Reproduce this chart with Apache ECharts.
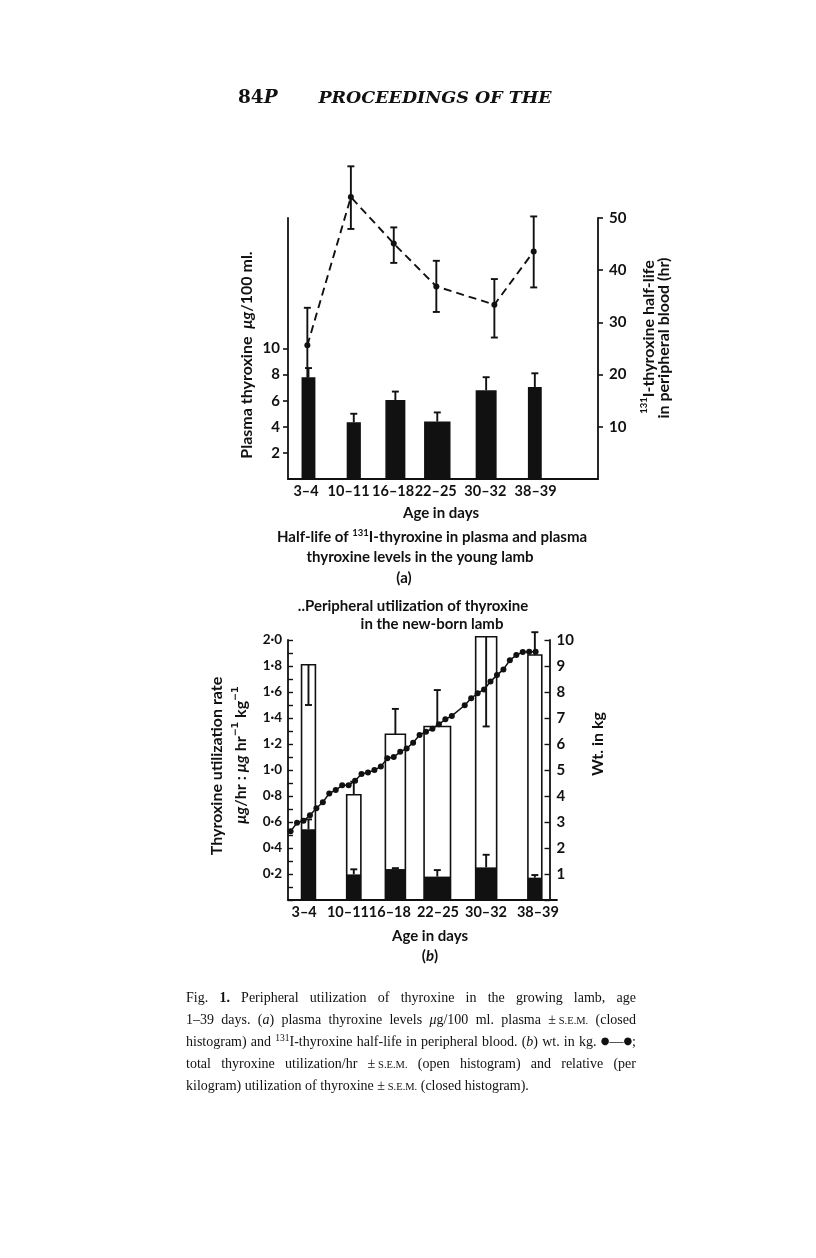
<!DOCTYPE html>
<html><head><meta charset="utf-8">
<script src="https://cdn.jsdelivr.net/npm/echarts@6/dist/echarts.min.js"></script>
<style>html,body{margin:0;padding:0;background:#fff}#c{width:816px;height:1258px}</style>
</head><body><div id="c"></div>
<script>
// ---------------- data ----------------
const ageLabels = ['3–4', '10–11', '16–18', '22–25', '30–32', '38–39'];
const labelDaysA = [3.4, 10.0, 16.9, 23.5, 31.2, 39.0];
const labelDaysB = [3.1, 9.9, 16.4, 23.85, 31.3, 39.35];
const binLo = [2.7, 9.7, 15.7, 21.7, 29.7, 37.8];
const binHi = [4.85, 11.9, 18.8, 25.8, 32.95, 39.95];
// (a) plasma thyroxine (µg/100 ml) and half-life (hr)
const plasmaT4 = [7.8, 4.35, 6.05, 4.4, 6.8, 7.05];
const plasmaT4Err = [8.5, 5.0, 6.7, 5.1, 7.8, 8.1];
const halfLifeDays = [3.6, 10.35, 17.0, 23.6, 32.6, 38.7];
const halfLife = [25.6, 54.0, 45.1, 36.9, 33.4, 43.6];
const halfLifeLo = [18.2, 47.9, 41.4, 32.0, 27.1, 36.7];
const halfLifeHi = [32.8, 59.9, 48.2, 41.8, 38.3, 50.3];
// (b) utilization
const totalUtil = [1.81, 0.81, 1.275, 1.335, 2.025, 1.885];
const totalUtilErr = [1.50, 0.91, 1.47, 1.615, 1.335, 2.06];
const relUtil = [0.545, 0.197, 0.238, 0.18, 0.251, 0.172];
const relUtilErr = [0.62, 0.236, 0.245, 0.23, 0.348, 0.192];
const weightDays = [1,2,3,4,5,6,7,8,9,10,11,12,13,14,15,16,17,18,19,20,21,22,23,24,25,26,28,29,30,31,32,33,34,35,36,37,38,39];
const weightKg = [2.64,2.97,3.05,3.26,3.53,3.76,4.10,4.23,4.41,4.41,4.59,4.85,4.90,5.00,5.13,5.45,5.50,5.70,5.83,6.05,6.35,6.47,6.59,6.76,6.95,7.08,7.49,7.76,7.95,8.10,8.40,8.65,8.87,9.22,9.42,9.54,9.55,9.55];
const ticksA_left = [2, 4, 6, 8, 10];
const ticksA_right = [10, 20, 30, 40, 50];

// ---------------- helpers ----------------
const K = '#111';
const SANS = 'Lato';
const SERIF = 'Liberation Serif';
function labelFor(v, arr) {
  let bi = 0, bd = 1e9;
  arr.forEach((a, i) => { const d = Math.abs(a - v); if (d < bd) { bd = d; bi = i; } });
  return ageLabels[bi];
}
function fmtDot(v) { return v.toFixed(1).replace('.', '·'); }
function barRender(fill, stroke, lw) {
  return (p, api) => {
    const lo = api.value(0), hi = api.value(1), v = api.value(2);
    const a = api.coord([lo, v]), b = api.coord([hi, 0]);
    return { type: 'rect', shape: { x: a[0], y: a[1], width: b[0] - a[0], height: b[1] - a[1] },
      style: { fill: fill, stroke: stroke, lineWidth: lw } };
  };
}
function errRender(capBoth) {
  return (p, api) => {
    const x = api.value(0), y0 = api.value(1), y1 = api.value(2);
    const a = api.coord([x, y0]), b = api.coord([x, y1]);
    const c = 3.5, st = { stroke: K, lineWidth: 1.9 };
    const ch = [
      { type: 'line', shape: { x1: a[0], y1: a[1], x2: b[0], y2: b[1] }, style: st },
      { type: 'line', shape: { x1: b[0] - c, y1: b[1], x2: b[0] + c, y2: b[1] }, style: st }
    ];
    if (capBoth) ch.push({ type: 'line', shape: { x1: a[0] - c, y1: a[1], x2: a[0] + c, y2: a[1] }, style: st });
    return { type: 'group', children: ch };
  };
}
const axisLine = { show: true, onZero: false, lineStyle: { color: K, width: 1.8 } };
const tickLab = { color: K, fontFamily: SANS, fontWeight: 'bold', fontSize: 14.5 };

// chart text rich styles
function rs(size, extra) {
  return Object.assign({ fontFamily: SANS, fontWeight: 'bold', fontSize: size, lineHeight: size + 2, verticalAlign: 'bottom', fill: K }, extra || {});
}
const chartRich = {
  t: rs(15), i: rs(15, { fontStyle: 'italic' }),
  n: rs(16), ni: rs(16, { fontStyle: 'italic' }),
  sup: rs(9.5, { lineHeight: 10, verticalAlign: 'top' }),
  sup2: rs(9.5, { fontFamily: 'DejaVu Sans', lineHeight: 10, verticalAlign: 'top' })
};
function T(x, y, text, rot) {
  return { type: 'text', x: x, y: y, rotation: rot || 0,
    style: { text: text, rich: chartRich, align: 'center', verticalAlign: 'middle',
      textAlign: 'center', textVerticalAlign: 'middle', fill: K } };
}

// ---------------- caption (justified) ----------------
const capLines = [
  'Fig. {b|1.} Peripheral utilization of thyroxine in the growing lamb, age',
  '1–39 days. ({i|a}) plasma thyroxine levels {i|μ}g/100 ml. plasma ±\u2009{sc|S.E.M.} (closed',
  'histogram) and {sup|131}I-thyroxine half-life in peripheral blood. ({i|b}) wt. in kg. {dot|●}—{dot|●};',
  'total thyroxine utilization/hr ±\u2009{sc|S.E.M.} (open histogram) and relative (per',
  'kilogram) utilization of thyroxine ±\u2009{sc|S.E.M.} (closed histogram).'
];
const capFS = 14;
const capStyle = {
  n: { fontSize: capFS, lineHeight: 16, verticalAlign: 'bottom' },
  i: { fontSize: capFS, fontStyle: 'italic', lineHeight: 16, verticalAlign: 'bottom' },
  b: { fontSize: capFS, fontWeight: 'bold', lineHeight: 16, verticalAlign: 'bottom' },
  sc: { fontSize: 10.5, lineHeight: 12.5, verticalAlign: 'bottom' },
  sup: { fontSize: 9.5, lineHeight: 10, verticalAlign: 'top' },
  dot: { fontSize: 10, lineHeight: 16, verticalAlign: 'middle', fontFamily: 'DejaVu Sans' }
};
const capRich = {};
Object.keys(capStyle).forEach(k => { capRich[k] = Object.assign({ fontFamily: SERIF + ', DejaVu Serif', fill: K }, capStyle[k]); });
const cv = document.createElement('canvas').getContext('2d');
function cssFont(k) {
  const s = capRich[k];
  return (s.fontStyle || 'normal') + ' ' + (s.fontWeight || 'normal') + ' ' + s.fontSize + 'px "' + (s.fontFamily.split(',')[0]) + '", "DejaVu Serif"';
}
function segs(word) {
  const out = []; const re = /\{(\w+)\|([^}]*)\}/g; let last = 0, m;
  while ((m = re.exec(word))) { if (m.index > last) out.push(['n', word.slice(last, m.index)]); out.push([m[1], m[2]]); last = re.lastIndex; }
  if (last < word.length) out.push(['n', word.slice(last)]);
  return out;
}
function wordWidth(word) { return segs(word).reduce((s, sg) => { cv.font = cssFont(sg[0]); return s + cv.measureText(sg[1]).width; }, 0); }
function richStr(word) { return segs(word).map(sg => '{' + sg[0] + '|' + sg[1] + '}').join(''); }
const capX0 = 186, capX1 = 636, capY = [997, 1019, 1041, 1063, 1085];
const capGraphics = [];
capLines.forEach((line, li) => {
  const words = line.split(' ');
  const ws = words.map(wordWidth);
  const total = ws.reduce((a, b) => a + b, 0);
  cv.font = cssFont('n');
  const nat = cv.measureText(' ').width;
  const last = li === capLines.length - 1;
  const gap = last ? nat : (capX1 - capX0 - total) / (words.length - 1);
  let x = capX0;
  words.forEach((w, i) => {
    capGraphics.push({ type: 'text', x: x, y: capY[li],
      style: { text: richStr(w), rich: capRich, align: 'left', verticalAlign: 'middle', textAlign: 'left', textVerticalAlign: 'middle', fill: K } });
    x += ws[i] + gap;
  });
});

// ---------------- option ----------------
const barsA = binLo.map((lo, i) => [lo, binHi[i], plasmaT4[i]]);
const errBarsA = binLo.map((lo, i) => [(lo + binHi[i]) / 2, plasmaT4[i], plasmaT4Err[i]]);
const hlErr = halfLifeDays.map((d, i) => [d, halfLifeLo[i], halfLifeHi[i]]);
const openB = binLo.map((lo, i) => [lo, binHi[i], totalUtil[i]]);
const closedB = binLo.map((lo, i) => [lo, binHi[i], relUtil[i]]);
const openErr = binLo.map((lo, i) => [(lo + binHi[i]) / 2, totalUtil[i], totalUtilErr[i]]);
const closedErr = binLo.map((lo, i) => [(lo + binHi[i]) / 2, relUtil[i], relUtilErr[i]]);

const option = {
  animation: false,
  backgroundColor: '#fff',
  grid: [
    { left: 288, top: 218, width: 310, height: 261 },
    { left: 288, top: 640, width: 269, height: 260 }
  ],
  xAxis: [
    { gridIndex: 0, type: 'value', min: 0.6, max: 48.67, axisLine: axisLine, axisTick: { show: false }, splitLine: { show: false },
      axisLabel: Object.assign({}, tickLab, { margin: 5, customValues: labelDaysA, formatter: v => labelFor(v, labelDaysA) }) },
    { gridIndex: 1, type: 'value', min: 0.6, max: 42.31, axisLine: axisLine, axisTick: { show: false }, splitLine: { show: false },
      axisLabel: Object.assign({}, tickLab, { margin: 5, customValues: labelDaysB, formatter: v => labelFor(v, labelDaysB) }) }
  ],
  yAxis: [
    { gridIndex: 0, type: 'value', position: 'left', min: 0, max: 20, axisLine: axisLine, splitLine: { show: false },
      axisTick: { show: true, length: 5, customValues: ticksA_left, lineStyle: { color: K, width: 1.6 } },
      axisLabel: Object.assign({}, tickLab, { fontSize: 15, margin: 8, customValues: ticksA_left }) },
    { gridIndex: 0, type: 'value', position: 'right', min: 0, max: 50, axisLine: axisLine, splitLine: { show: false },
      axisTick: { show: true, length: 5, customValues: ticksA_right, lineStyle: { color: K, width: 1.6 } },
      axisLabel: Object.assign({}, tickLab, { fontSize: 15, margin: 11, customValues: ticksA_right }) },
    { gridIndex: 1, type: 'value', position: 'left', min: 0, max: 2, interval: 0.1, axisLine: axisLine, splitLine: { show: false },
      axisTick: { show: true, inside: true, length: 5, lineStyle: { color: K, width: 1.4 } },
      axisLabel: Object.assign({}, tickLab, { fontSize: 13.5, margin: 6, formatter: v => (v > 0.05 && Math.round(v * 10) % 2 === 0) ? fmtDot(v) : '' }) },
    { gridIndex: 1, type: 'value', position: 'right', offset: -7.5, min: 0, max: 10, interval: 1, axisLine: axisLine, splitLine: { show: false },
      axisTick: { show: true, inside: true, length: 5, lineStyle: { color: K, width: 1.4 } },
      axisLabel: Object.assign({}, tickLab, { fontSize: 15, margin: 7, formatter: v => v > 0 ? String(v) : '' }) }
  ],
  series: [
    { type: 'custom', name: 'Plasma thyroxine', xAxisIndex: 0, yAxisIndex: 0, clip: false, data: barsA, renderItem: barRender(K, K, 0) },
    { type: 'custom', name: 'Plasma thyroxine s.e.m.', xAxisIndex: 0, yAxisIndex: 0, clip: false, data: errBarsA, renderItem: errRender(false) },
    { type: 'custom', name: 'Half-life s.e.m.', xAxisIndex: 0, yAxisIndex: 1, clip: false, data: hlErr, renderItem: errRender(true) },
    { type: 'line', name: 'Half-life', xAxisIndex: 0, yAxisIndex: 1, clip: false, data: halfLifeDays.map((d, i) => [d, halfLife[i]]),
      symbol: 'circle', symbolSize: 6, itemStyle: { color: K }, lineStyle: { color: K, width: 1.9, type: [8, 5] }, z: 5 },
    { type: 'custom', name: 'Total utilization', xAxisIndex: 1, yAxisIndex: 2, clip: false, data: openB, renderItem: barRender('#fff', K, 1.6) },
    { type: 'custom', name: 'Relative utilization', xAxisIndex: 1, yAxisIndex: 2, clip: false, data: closedB, renderItem: barRender(K, K, 0) },
    { type: 'custom', name: 'Total utilization s.e.m.', xAxisIndex: 1, yAxisIndex: 2, clip: false, data: openErr, renderItem: errRender(false) },
    { type: 'custom', name: 'Relative utilization s.e.m.', xAxisIndex: 1, yAxisIndex: 2, clip: false, data: closedErr, renderItem: errRender(false) },
    { type: 'line', name: 'Weight', xAxisIndex: 1, yAxisIndex: 3, clip: false, data: weightDays.map((d, i) => [d, weightKg[i]]),
      symbol: 'circle', symbolSize: 6, itemStyle: { color: K }, lineStyle: { color: K, width: 1.5 }, z: 5 }
  ],
  graphic: [
    { type: 'text', x: 238, y: 98, style: { text: '{a|84}{b|P}', rich: {
        a: { fontFamily: 'DejaVu Serif', fontWeight: 'bold', fontSize: 18.5, fill: K },
        b: { fontFamily: 'DejaVu Serif', fontWeight: 'bold', fontStyle: 'italic', fontSize: 18.5, fill: K } },
      align: 'left', verticalAlign: 'middle', textAlign: 'left', textVerticalAlign: 'middle' } },
    { type: 'text', x: 435, y: 98, style: { text: 'PROCEEDINGS OF THE', fontFamily: 'DejaVu Serif', fontWeight: 'bold', fontStyle: 'italic', fontSize: 17.5,
      fill: K, align: 'center', verticalAlign: 'middle', textAlign: 'center', textVerticalAlign: 'middle' } },
    T(246, 355, '{n|Plasma thyroxine  }{ni|μg}{n|/100 ml.}', Math.PI / 2),
    T(648, 337, '{sup|131}{n|I-thyroxine half-life}', Math.PI / 2),
    T(663, 338, '{n|in peripheral blood (hr)}', Math.PI / 2),
    T(441, 512, '{t|Age in days}'),
    T(432, 536, '{t|Half-life of }{sup|131}{t|I-thyroxine in plasma and plasma}'),
    T(420, 556, '{t|thyroxine levels in the young lamb}'),
    T(404, 577, '{t|(a)}'),
    T(413, 605, '{t|..Peripheral utilization of thyroxine}'),
    T(432, 623, '{t|in the new-born lamb}'),
    T(216, 766, '{n|Thyroxine utilization rate}', Math.PI / 2),
    T(240, 755, '{ni|μg}{n|/hr : }{ni|μg}{n| hr}{sup2|−1}{n| kg}{sup2|−1}', Math.PI / 2),
    T(597, 744, '{n|Wt. in kg}', Math.PI / 2),
    T(430, 935, '{t|Age in days}'),
    T(430, 955, '{t|(}{i|b}{t|)}')
  ].concat(capGraphics)
};
const chart = echarts.init(document.getElementById('c'), null, { renderer: 'canvas', width: 816, height: 1258 });
chart.setOption(option);
</script>
</body></html>
